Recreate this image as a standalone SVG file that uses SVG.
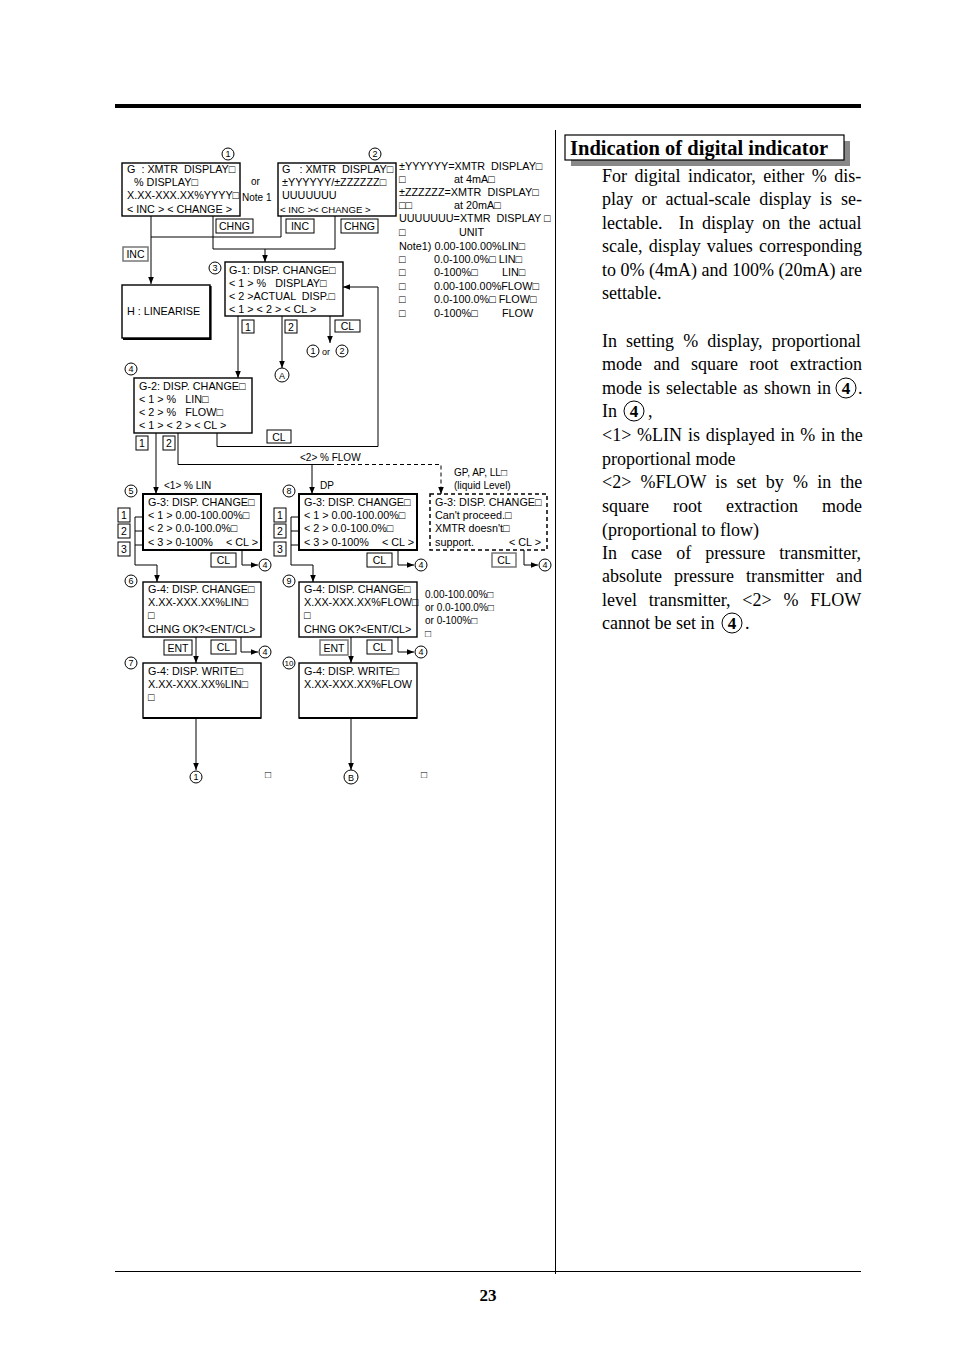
<svg xmlns="http://www.w3.org/2000/svg" width="954" height="1351" viewBox="0 0 954 1351">
<style>
.t{font-family:"Liberation Sans",Arial,"DejaVu Sans",sans-serif;font-size:10.8px;fill:#000;white-space:pre}
.ts{font-family:"Liberation Sans",Arial,"DejaVu Sans",sans-serif;font-size:10px;fill:#000;white-space:pre}
.k{font-family:"Liberation Sans",Arial,"DejaVu Sans",sans-serif;font-size:10.5px;fill:#000;text-anchor:middle}
.cn{font-family:"Liberation Sans",Arial,sans-serif;font-size:9px;fill:#000;text-anchor:middle}
.box{fill:#fff;stroke:#000;stroke-width:1.4}
.bx2{fill:#fff;stroke:#000;stroke-width:2}
.dbox{fill:#fff;stroke:#000;stroke-width:1.5;stroke-dasharray:4,3}
.key{fill:#fff;stroke:#000;stroke-width:1}
.keyg{fill:#fff;stroke:#777;stroke-width:1.5}
.ln{fill:none;stroke:#000;stroke-width:1}
.dl{fill:none;stroke:#000;stroke-width:1;stroke-dasharray:4,3}
.c{fill:#fff;stroke:#000;stroke-width:1}
.body{font-family:"Liberation Serif","Times New Roman",serif;font-size:18px;fill:#000}
.bc{fill:#fff;stroke:#000;stroke-width:1}
.b4{font-family:"Liberation Serif","Times New Roman",serif;font-size:17px;font-weight:bold;fill:#000;text-anchor:middle}
</style>
<defs>
<marker id="ar" viewBox="0 0 10 10" refX="10" refY="5" markerWidth="7" markerHeight="7" markerUnits="userSpaceOnUse" orient="auto">
<path d="M0,1 L10,5 L0,9 z" fill="#000"/>
</marker>
</defs>

<!-- page frame -->
<rect x="115" y="104" width="746" height="4" fill="#000"/>
<line x1="555.5" y1="130" x2="555.5" y2="1274" stroke="#000" stroke-width="1"/>
<line x1="115" y1="1271.5" x2="861" y2="1271.5" stroke="#000" stroke-width="1"/>
<text x="488" y="1301" style="font-family:'Liberation Serif',serif;font-size:17px;font-weight:bold;text-anchor:middle">23</text>

<!-- connectors -->
<g id="connectors">
<path class="ln" d="M151,216 V284" marker-end="url(#ar)"/>
<path class="ln" d="M151,237 H281 V216"/>
<path class="ln" d="M213,216 V249 H335 V216"/>
<path class="ln" d="M265,249 V262" marker-end="url(#ar)"/>
<path class="ln" d="M238,316 V378" marker-end="url(#ar)"/>
<path class="ln" d="M282,316 V368" marker-end="url(#ar)"/>
<path class="ln" d="M330,316 V343" marker-end="url(#ar)"/>
<path class="ln" d="M217,433 V446.5 H378 V287 H343" marker-end="url(#ar)"/>
<path class="ln" d="M156,433 V494" marker-end="url(#ar)"/>
<path class="ln" d="M178,433 V464.5 H330"/>
<path class="ln" d="M312,464.5 V494" marker-end="url(#ar)"/>
<path class="dl" d="M330,464.5 H441 V487"/>
<path class="ln" d="M441,487 V494" marker-end="url(#ar)"/>
<!-- G-3 (5) side -->
<path class="ln" d="M135,517 V565 H157 V582" marker-end="url(#ar)"/>
<path class="ln" d="M135,517 H143 M135,531 H143 M135,545 H143"/>
<path class="ln" d="M242,550 V565 H258" marker-end="url(#ar)"/>
<!-- G-3 (8) side -->
<path class="ln" d="M291,517 V565 H313 V582" marker-end="url(#ar)"/>
<path class="ln" d="M291,517 H299 M291,531 H299 M291,545 H299"/>
<path class="ln" d="M398,550 V565 H414" marker-end="url(#ar)"/>
<!-- dashed G-3 -->
<path class="ln" d="M524,550 V565 H538" marker-end="url(#ar)"/>
<!-- G-4 change -->
<path class="ln" d="M196,637 V663" marker-end="url(#ar)"/>
<path class="ln" d="M241,637 V652 H258" marker-end="url(#ar)"/>
<path class="ln" d="M351,637 V663" marker-end="url(#ar)"/>
<path class="ln" d="M398,637 V652 H414" marker-end="url(#ar)"/>
<!-- G-4 write -->
<path class="ln" d="M196,718 V770" marker-end="url(#ar)"/>
<path class="ln" d="M351,718 V770" marker-end="url(#ar)"/>
</g>

<!-- key labels -->
<g id="keys">
<rect class="key" x="216" y="219" width="37" height="14"/><text class="k" x="234.5" y="230">CHNG</text>
<rect class="key" x="286" y="219" width="28" height="14"/><text class="k" x="300" y="230">INC</text>
<rect class="key" x="341" y="219" width="37" height="14"/><text class="k" x="359.5" y="230">CHNG</text>
<rect class="keyg" x="123" y="247" width="25" height="14"/><text class="k" x="135.5" y="258">INC</text>
<rect class="key" x="242" y="320" width="12" height="13"/><text class="k" x="248" y="330.5">1</text>
<rect class="key" x="285" y="320" width="12" height="13"/><text class="k" x="291" y="330.5">2</text>
<rect class="key" x="335" y="320" width="25" height="12"/><text class="k" x="347.5" y="330">CL</text>
<rect class="key" x="136" y="436" width="12" height="14"/><text class="k" x="142" y="447">1</text>
<rect class="key" x="163" y="436" width="12" height="14"/><text class="k" x="169" y="447">2</text>
<rect class="key" x="267" y="430" width="24" height="13"/><text class="k" x="279" y="440.5">CL</text>
<rect class="key" x="118" y="508" width="12" height="14"/><text class="k" x="124" y="519">1</text>
<rect class="key" x="118" y="524" width="12" height="14"/><text class="k" x="124" y="535">2</text>
<rect class="key" x="118" y="542" width="12" height="14"/><text class="k" x="124" y="553">3</text>
<rect class="key" x="211" y="553" width="25" height="14"/><text class="k" x="223.5" y="564">CL</text>
<rect class="key" x="274" y="508" width="12" height="14"/><text class="k" x="280" y="519">1</text>
<rect class="key" x="274" y="524" width="12" height="14"/><text class="k" x="280" y="535">2</text>
<rect class="key" x="274" y="542" width="12" height="14"/><text class="k" x="280" y="553">3</text>
<rect class="key" x="367" y="553" width="25" height="14"/><text class="k" x="379.5" y="564">CL</text>
<rect class="keyg" x="492" y="553" width="24" height="14"/><text class="k" x="504" y="564">CL</text>
<rect class="key" x="164" y="640" width="28" height="15"/><text class="k" x="178" y="651.5">ENT</text>
<rect class="key" x="211" y="640" width="25" height="14"/><text class="k" x="223.5" y="651">CL</text>
<rect class="keyg" x="320" y="640" width="28" height="15"/><text class="k" x="334" y="651.5">ENT</text>
<rect class="key" x="367" y="640" width="25" height="14"/><text class="k" x="379.5" y="651">CL</text>
</g>

<!-- box 1 -->
<g id="n1">
<rect class="box" x="122" y="163" width="118" height="53"/>
<text class="t" x="127" y="173">G  : XMTR  DISPLAY□</text>
<text class="t" x="134" y="186">% DISPLAY□</text>
<text class="t" x="127" y="199">X.XX-XXX.XX%YYYY□</text>
<text class="t" x="127" y="213">&lt; INC &gt; &lt; CHANGE &gt;</text>
<circle class="c" cx="228" cy="154" r="6"/><text class="cn" x="228" y="157.3">1</text>
</g>
<text class="ts" x="251" y="185">or</text>
<text class="ts" x="242" y="201">Note 1</text>

<!-- box 2 -->
<g id="n2">
<rect class="box" x="278" y="163" width="118" height="53"/>
<text class="t" x="282" y="173">G   : XMTR  DISPLAY□</text>
<text class="t" x="282" y="186">±YYYYYY/±ZZZZZZ□</text>
<text class="t" x="282" y="199">UUUUUUU</text>
<text class="t" x="280" y="213" style="font-size:9.6px">&lt; INC &gt;&lt; CHANGE &gt;</text>
<circle class="c" cx="375" cy="154" r="6"/><text class="cn" x="375" y="157.3">2</text>
</g>

<!-- notes -->
<g id="notes">
<text class="t" x="399" y="170">±YYYYYY=XMTR  DISPLAY□</text>
<text class="t" x="399" y="183">□</text><text class="t" x="454" y="183">at 4mA□</text>
<text class="t" x="399" y="196">±ZZZZZZ=XMTR  DISPLAY□</text>
<text class="t" x="399" y="209">□□</text><text class="t" x="454" y="209">at 20mA□</text>
<text class="t" x="399" y="222">UUUUUUU=XTMR  DISPLAY □</text>
<text class="t" x="399" y="236">□</text><text class="t" x="459" y="236">UNIT</text>
<text class="t" x="399" y="250">Note1) 0.00-100.00%LIN□</text>
<text class="t" x="399" y="263">□</text><text class="t" x="434" y="263">0.0-100.0%□ LIN□</text>
<text class="t" x="399" y="276">□</text><text class="t" x="434" y="276">0-100%□</text><text class="t" x="502" y="276">LIN□</text>
<text class="t" x="399" y="290">□</text><text class="t" x="434" y="290">0.00-100.00%FLOW□</text>
<text class="t" x="399" y="303">□</text><text class="t" x="434" y="303">0.0-100.0%□ FLOW□</text>
<text class="t" x="399" y="317">□</text><text class="t" x="434" y="317">0-100%□</text><text class="t" x="502" y="317">FLOW</text>
</g>

<!-- H -->
<g id="nH">
<rect class="box" x="122" y="285" width="88" height="53"/>
<path d="M210.5,286 V339 H123" fill="none" stroke="#000" stroke-width="2.2"/>
<text class="t" x="127" y="315">H : LINEARISE</text>
</g>

<!-- G-1 -->
<g id="n3">
<rect class="box" x="225" y="262" width="118" height="54"/>
<text class="t" x="229" y="274">G-1: DISP. CHANGE□</text>
<text class="t" x="229" y="287">&lt; 1 &gt; %   DISPLAY□</text>
<text class="t" x="229" y="300">&lt; 2 &gt;ACTUAL  DISP.□</text>
<text class="t" x="229" y="313">&lt; 1 &gt; &lt; 2 &gt; &lt; CL &gt;</text>
<circle class="c" cx="215" cy="268" r="6"/><text class="cn" x="215" y="271.3">3</text>
</g>
<circle class="c" cx="282" cy="375" r="7"/><text class="cn" x="282" y="378.5">A</text>
<circle class="c" cx="313" cy="351" r="6"/><text class="cn" x="313" y="354.3">1</text>
<text class="ts" x="322" y="355" style="font-size:9px">or</text>
<circle class="c" cx="342" cy="351" r="6"/><text class="cn" x="342" y="354.3">2</text>

<!-- G-2 -->
<g id="n4">
<rect class="box" x="134" y="378" width="118" height="55"/>
<text class="t" x="139" y="390">G-2: DISP. CHANGE□</text>
<text class="t" x="139" y="403">&lt; 1 &gt; %   LIN□</text>
<text class="t" x="139" y="416">&lt; 2 &gt; %   FLOW□</text>
<text class="t" x="139" y="429">&lt; 1 &gt; &lt; 2 &gt; &lt; CL &gt;</text>
<circle class="c" cx="131" cy="369" r="6"/><text class="cn" x="131" y="372.3">4</text>
</g>
<text class="ts" x="300" y="461">&lt;2&gt; % FLOW</text>
<text class="ts" x="164" y="489">&lt;1&gt; % LIN</text>
<text class="ts" x="320" y="489">DP</text>
<text class="ts" x="454" y="476">GP, AP, LL□</text>
<text class="ts" x="454" y="489">(liquid Level)</text>

<!-- G-3 (5) -->
<g id="n5">
<rect class="bx2" x="143" y="494" width="118" height="56"/>
<text class="t" x="148" y="506">G-3: DISP. CHANGE□</text>
<text class="t" x="148" y="519">&lt; 1 &gt; 0.00-100.00%□</text>
<text class="t" x="148" y="532">&lt; 2 &gt; 0.0-100.0%□</text>
<text class="t" x="148" y="546">&lt; 3 &gt; 0-100%</text>
<text class="t" x="258" y="546" style="text-anchor:end">&lt; CL &gt;</text>
<circle class="c" cx="131" cy="491" r="6"/><text class="cn" x="131" y="494.3">5</text>
</g>
<!-- G-3 (8) -->
<g id="n8">
<rect class="bx2" x="299" y="494" width="118" height="56"/>
<text class="t" x="304" y="506">G-3: DISP. CHANGE□</text>
<text class="t" x="304" y="519">&lt; 1 &gt; 0.00-100.00%□</text>
<text class="t" x="304" y="532">&lt; 2 &gt; 0.0-100.0%□</text>
<text class="t" x="304" y="546">&lt; 3 &gt; 0-100%</text>
<text class="t" x="414" y="546" style="text-anchor:end">&lt; CL &gt;</text>
<circle class="c" cx="289" cy="491" r="6"/><text class="cn" x="289" y="494.3">8</text>
</g>
<!-- G-3 dashed -->
<g id="nx">
<rect class="dbox" x="430" y="494" width="117" height="56"/>
<text class="t" x="435" y="506">G-3: DISP. CHANGE□</text>
<text class="t" x="435" y="519">Can't proceed.□</text>
<text class="t" x="435" y="532">XMTR doesn't□</text>
<text class="t" x="435" y="546">support.</text>
<text class="t" x="541" y="546" style="text-anchor:end">&lt; CL &gt;</text>
</g>
<circle class="c" cx="265" cy="565" r="6"/><text class="cn" x="265" y="568.3">4</text>
<circle class="c" cx="421" cy="565" r="6"/><text class="cn" x="421" y="568.3">4</text>
<circle class="c" cx="545" cy="565" r="6"/><text class="cn" x="545" y="568.3">4</text>

<!-- G-4 (6) -->
<g id="n6">
<rect class="box" x="143" y="582" width="118" height="55"/>
<text class="t" x="148" y="593">G-4: DISP. CHANGE□</text>
<text class="t" x="148" y="606">X.XX-XXX.XX%LIN□</text>
<text class="t" x="148" y="619">□</text>
<text class="t" x="148" y="633">CHNG OK?&lt;ENT/CL&gt;</text>
<circle class="c" cx="131" cy="581" r="6"/><text class="cn" x="131" y="584.3">6</text>
</g>
<!-- G-4 (9) -->
<g id="n9">
<rect class="box" x="299" y="582" width="118" height="55"/>
<text class="t" x="304" y="593">G-4: DISP. CHANGE□</text>
<text class="t" x="304" y="606">X.XX-XXX.XX%FLOW□</text>
<text class="t" x="304" y="619">□</text>
<text class="t" x="304" y="633">CHNG OK?&lt;ENT/CL&gt;</text>
<circle class="c" cx="289" cy="581" r="6"/><text class="cn" x="289" y="584.3">9</text>
</g>
<text class="ts" x="425" y="598">0.00-100.00%□</text>
<text class="ts" x="425" y="611">or 0.0-100.0%□</text>
<text class="ts" x="425" y="624">or 0-100%□</text>
<text class="ts" x="425" y="637">□</text>
<circle class="c" cx="265" cy="652" r="6"/><text class="cn" x="265" y="655.3">4</text>
<circle class="c" cx="421" cy="652" r="6"/><text class="cn" x="421" y="655.3">4</text>

<!-- G-4 write (7) -->
<g id="n7">
<rect class="box" x="143" y="663" width="118" height="55"/>
<line x1="143" y1="718" x2="261" y2="718" stroke="#000" stroke-width="2.2"/>
<text class="t" x="148" y="675">G-4: DISP. WRITE□</text>
<text class="t" x="148" y="688">X.XX-XXX.XX%LIN□</text>
<text class="t" x="148" y="701">□</text>
<circle class="c" cx="131" cy="663" r="6"/><text class="cn" x="131" y="666.3">7</text>
</g>
<!-- G-4 write (10) -->
<g id="n10">
<rect class="box" x="299" y="663" width="118" height="55"/>
<line x1="299" y1="718" x2="417" y2="718" stroke="#000" stroke-width="2.2"/>
<text class="t" x="304" y="675">G-4: DISP. WRITE□</text>
<text class="t" x="304" y="688">X.XX-XXX.XX%FLOW</text>
<circle class="c" cx="289" cy="663" r="6"/><text class="cn" x="289" y="666" style="font-size:8px">10</text>
</g>
<circle class="c" cx="196" cy="777" r="6"/><text class="cn" x="196" y="780.3">1</text>
<circle class="c" cx="351" cy="777" r="7"/><text class="cn" x="351" y="780.5">B</text>
<text class="ts" x="265" y="778">□</text>
<text class="ts" x="421" y="778">□</text>

<!-- right column -->
<g id="title">
<rect x="571" y="141" width="279" height="25" fill="#888"/>
<rect x="565" y="135" width="279" height="25" fill="#fff" stroke="#000" stroke-width="1.2"/>
<text x="570" y="155" style="font-family:'Liberation Serif','Times New Roman',serif;font-size:20.5px;font-weight:bold">Indication of digital indicator</text>
</g>
<g id="bodytext">
<text class="body" x="602" y="182" word-spacing="3">For digital indicator, either % dis-</text>
<text class="body" x="602" y="205" word-spacing="4.3">play or actual-scale display is se-</text>
<text class="body" x="602" y="229" word-spacing="3.7" style="white-space:pre">lectable.  In display on the actual</text>
<text class="body" x="602" y="252" word-spacing="1.7">scale, display values corresponding</text>
<text class="body" x="602" y="276">to 0% (4mA) and 100% (20mA) are</text>
<text class="body" x="602" y="299">settable.</text>
<text class="body" x="602" y="347" word-spacing="4.6">In setting % display, proportional</text>
<text class="body" x="602" y="370" word-spacing="7">mode and square root extraction</text>
<text class="body" x="602" y="394" word-spacing="1.5">mode is selectable as shown in</text>
<circle class="bc" cx="846" cy="388" r="10"/><text class="b4" x="846" y="394">4</text>
<text class="body" x="858" y="394">.</text>
<text class="body" x="602" y="417">In</text>
<circle class="bc" cx="634" cy="411" r="10"/><text class="b4" x="634" y="417">4</text>
<text class="body" x="648" y="417">,</text>
<text class="body" x="602" y="441" word-spacing="1.3">&lt;1&gt; %LIN is displayed in % in the</text>
<text class="body" x="602" y="465">proportional mode</text>
<text class="body" x="602" y="488" word-spacing="4.7">&lt;2&gt; %FLOW is set by % in the</text>
<text class="body" x="602" y="512" word-spacing="19.5">square root extraction mode</text>
<text class="body" x="602" y="536">(proportional to flow)</text>
<text class="body" x="602" y="559" word-spacing="9.6">In case of pressure transmitter,</text>
<text class="body" x="602" y="582" word-spacing="7.5">absolute pressure transmitter and</text>
<text class="body" x="602" y="606" word-spacing="7.3">level transmitter, &lt;2&gt; % FLOW</text>
<text class="body" x="602" y="629">cannot be set in</text>
<circle class="bc" cx="732" cy="623" r="10"/><text class="b4" x="732" y="629">4</text>
<text class="body" x="745" y="629">.</text>
</g>
</svg>
